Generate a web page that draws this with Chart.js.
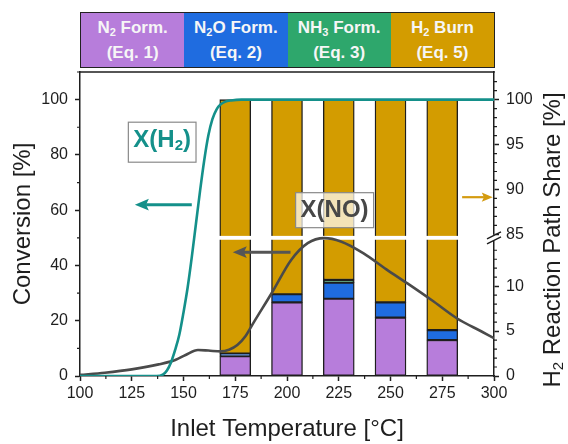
<!DOCTYPE html>
<html>
<head>
<meta charset="utf-8">
<script src="https://cdn.jsdelivr.net/npm/chart.js@4.4.1/dist/chart.umd.min.js"></script>
<style>
  html, body { margin: 0; padding: 0; background: #fff; }
  #wrap { position: relative; width: 568px; height: 444px; }
  #chart { position: absolute; left: 0; top: 0; }
  #header {
    position: absolute; left: 80px; top: 12px; width: 415px; height: 56px;
    display: flex; border: 1.5px solid #222; box-sizing: border-box;
    font-family: 'Liberation Sans', Arial, sans-serif; font-weight: bold;
    font-size: 17px; color: #f6f6f6;
  }
  .cell { flex: 1; display: flex; flex-direction: column; justify-content: center; align-items: center; line-height: 25px; }
  .cell sub { font-size: 11px; vertical-align: -3px; line-height: 0; }
</style>
</head>
<body>
<div id="wrap">
  <canvas id="chart" width="568" height="444"></canvas>
  <div id="header">
    <div class="cell" style="background:#b77ddb"><span>N<sub>2</sub> Form.</span><span>(Eq. 1)</span></div>
    <div class="cell" style="background:#1f6ce0"><span>N<sub>2</sub>O Form.</span><span>(Eq. 2)</span></div>
    <div class="cell" style="background:#2ea76c"><span>NH<sub>3</sub> Form.</span><span>(Eq. 3)</span></div>
    <div class="cell" style="background:#d39c00"><span>H<sub>2</sub> Burn</span><span>(Eq. 5)</span></div>
  </div>
</div>
<script>
// bar temperatures and H2 reaction path shares [%] (H2 burn fills up to 100)
const barTemps = [175, 200, 225, 250, 275];
const n2Share = [2.2, 8.2, 8.6, 6.5, 4.0];
const n2oShare = [0.3, 0.9, 1.8, 1.7, 1.1];
const nh3Share = [0, 0, 0.3, 0, 0];

// conversion curves [%]
const xH2Temps = [100, 120, 137, 140, 142, 144, 146, 148, 150, 152, 154, 156, 158, 160, 162, 164, 166, 168, 170, 173, 178, 200, 250, 300];
const xH2Values = [0, 0, 0, 0.5, 2, 5, 9.5, 15, 23, 32, 43, 55, 67, 78, 87, 93, 96.5, 98.3, 99.2, 99.7, 100, 100, 100, 100];
const xNoTemps = [100, 112, 125, 138, 146, 151, 157, 162, 168, 172, 176, 180, 184, 193, 202, 210, 218, 226, 237, 248, 258, 270, 282, 294, 300];
const xNoValues = [0.4, 1.2, 2.4, 4.2, 5.8, 7.6, 9.4, 9.2, 8.9, 9.5, 11.2, 14.5, 19.5, 30.5, 42, 48.1, 49.9, 48.7, 44.4, 38.6, 33.6, 27.4, 20.9, 16.1, 13.7];

// ticks
const xTicks = [100, 125, 150, 175, 200, 225, 250, 275, 300];
const leftTicks = [0, 20, 40, 60, 80, 100];
const rightTicks = [0, 5, 10, 85, 90, 95, 100];

const COLORS = {
  n2: '#b77ddb',
  n2o: '#1f6ce0',
  nh3: '#2ea76c',
  burn: '#d39c00',
  teal: '#14908a',
  grey: '#4a4a4a',
  ink: '#1e1e1e',
};

// right axis is broken between ~15 and ~85 %, both parts share the left axis
const SHARE_FACTOR = 3.25;
const BREAK_LOW = 49.3;
const BREAK_HIGH = 50.7;

function shareToLeft(r) {
  return r <= 15.5 ? r * SHARE_FACTOR : 100 - (100 - r) * SHARE_FACTOR;
}

function leftToShare(v) {
  return v <= 50 ? v / SHARE_FACTOR : 100 - (100 - v) / SHARE_FACTOR;
}

function segments(lowArr, highArr) {
  return barTemps.map((t, i) => {
    const lo = lowArr[i];
    const hi = highArr[i];
    if (hi - lo <= 0) {
      return { x: t, y: null };
    }
    return { x: t, y: [shareToLeft(lo), hi >= 100 ? 100 : shareToLeft(hi)] };
  });
}

const zeros = barTemps.map(() => 0);
const topN2 = n2Share.slice();
const topN2o = topN2.map((v, i) => v + n2oShare[i]);
const topNh3 = topN2o.map((v, i) => v + nh3Share[i]);
const hundreds = barTemps.map(() => 100);

function barDataset(label, data, color) {
  return {
    type: 'bar',
    label,
    data,
    backgroundColor: color,
    borderColor: COLORS.ink,
    borderWidth: 1.4,
    borderSkipped: false,
    barThickness: 31,
    grouped: false,
    order: 2,
  };
}

const datasets = [
  barDataset('N2 Form.', segments(zeros, topN2), COLORS.n2),
  barDataset('N2O Form.', segments(topN2, topN2o), COLORS.n2o),
  barDataset('NH3 Form.', segments(topN2o, topNh3), COLORS.nh3),
  barDataset('H2 Burn', segments(topNh3, hundreds), COLORS.burn),
  {
    type: 'line',
    label: 'X(NO)',
    data: xNoTemps.map((t, i) => ({ x: t, y: xNoValues[i] })),
    borderColor: COLORS.grey,
    borderWidth: 2.6,
    pointRadius: 0,
    cubicInterpolationMode: 'monotone',
    order: 1,
  },
  {
    type: 'line',
    label: 'X(H2)',
    data: xH2Temps.map((t, i) => ({ x: t, y: xH2Values[i] })),
    borderColor: COLORS.teal,
    borderWidth: 2.6,
    pointRadius: 0,
    cubicInterpolationMode: 'monotone',
    order: 0,
  },
];

// annotation anchors in data units (temperature, conversion)
const labelBoxes = [
  { parts: [['X(H', 0], ['2', 1], [')', 0]], x: 139.7, y: 84.6, color: COLORS.teal, fill: '#ffffff', h: 40 },
  { parts: [['X(NO)', 0]], x: 223, y: 60, color: '#474747', fill: 'rgba(255,255,255,0.72)', h: 35 },
];
const arrows = [
  { from: [154, 62], to: [126.5, 62], color: COLORS.teal, width: 3, head: 14 },
  { from: [201.7, 44.8], to: [173.8, 44.8], color: '#555555', width: 3, head: 14 },
  { from: [284.6, 64.7], to: [299.4, 64.7], color: '#d49b10', width: 2.2, head: 11 },
];

const FONT = "'Liberation Sans', Arial, sans-serif";

function measureParts(ctx, parts, size) {
  let w = 0;
  parts.forEach(([t, sub]) => {
    ctx.font = `bold ${sub ? Math.round(size * 0.62) : size}px ${FONT}`;
    w += ctx.measureText(t).width;
  });
  return w;
}

function drawParts(ctx, parts, size, x, y, weight) {
  let cx = x;
  parts.forEach(([t, sub]) => {
    const s = sub ? Math.round(size * 0.62) : size;
    ctx.font = `${weight} ${s}px ${FONT}`;
    ctx.fillText(t, cx, sub ? y + size * 0.22 : y);
    cx += ctx.measureText(t).width;
  });
}

function drawArrow(ctx, x1, y1, x2, y2, color, width, head) {
  const dir = Math.sign(x2 - x1);
  ctx.save();
  ctx.strokeStyle = color;
  ctx.fillStyle = color;
  ctx.lineWidth = width;
  ctx.beginPath();
  ctx.moveTo(x1, y1);
  ctx.lineTo(x2 - dir * head * 0.8, y2);
  ctx.stroke();
  ctx.beginPath();
  ctx.moveTo(x2, y2);
  ctx.lineTo(x2 - dir * head, y2 - head * 0.42);
  ctx.lineTo(x2 - dir * head * 0.8, y2);
  ctx.lineTo(x2 - dir * head, y2 + head * 0.42);
  ctx.closePath();
  ctx.fill();
  ctx.restore();
}

let bandDrawn = false;

const decor = {
  id: 'decor',
  beforeDatasetsDraw() {
    bandDrawn = false;
  },
  beforeDatasetDraw(chart, args) {
    if (bandDrawn || args.meta.type !== 'line') {
      return;
    }
    // white gap where the right axis is broken
    const { ctx, chartArea } = chart;
    const y = chart.scales.y;
    const top = y.getPixelForValue(BREAK_HIGH);
    const bottom = y.getPixelForValue(BREAK_LOW);
    ctx.save();
    ctx.fillStyle = '#ffffff';
    ctx.fillRect(chartArea.left + 1, top, chartArea.right - chartArea.left - 2, bottom - top);
    ctx.restore();
    bandDrawn = true;
  },
  afterDraw(chart) {
    const { ctx, chartArea } = chart;
    const xs = chart.scales.x;
    const ys = chart.scales.y;
    const ys1 = chart.scales.y1;

    ctx.save();
    ctx.strokeStyle = COLORS.ink;
    ctx.lineWidth = 1.5;

    // top frame line
    ctx.beginPath();
    ctx.moveTo(chartArea.left - 0.75, chartArea.top);
    ctx.lineTo(chartArea.right + 0.75, chartArea.top);
    ctx.stroke();

    // minor ticks
    ctx.lineWidth = 1.2;
    ctx.beginPath();
    for (let v = 112.5; v < 300; v += 25) {
      const px = xs.getPixelForValue(v);
      ctx.moveTo(px, chartArea.bottom);
      ctx.lineTo(px, chartArea.bottom + 3);
    }
    for (let v = 10; v <= 110; v += 20) {
      const py = ys.getPixelForValue(v);
      ctx.moveTo(chartArea.left, py);
      ctx.lineTo(chartArea.left - 3, py);
    }
    const minorShares = [];
    for (let r = 1; r <= 14; r++) {
      if (r % 5) minorShares.push(r);
    }
    for (let r = 86; r <= 102; r++) {
      if (r % 5) minorShares.push(r);
    }
    minorShares.forEach((r) => {
      const py = ys1.getPixelForValue(shareToLeft(r));
      ctx.moveTo(chartArea.right, py);
      ctx.lineTo(chartArea.right + 3, py);
    });
    ctx.stroke();

    // break marker on the right axis
    const yb = ys1.getPixelForValue((BREAK_LOW + BREAK_HIGH) / 2);
    const xr = chartArea.right;
    ctx.fillStyle = '#ffffff';
    ctx.fillRect(xr - 2, yb - 3, 4, 6);
    ctx.lineWidth = 1.5;
    ctx.beginPath();
    ctx.moveTo(xr - 7, yb + 1);
    ctx.lineTo(xr + 7, yb - 6);
    ctx.moveTo(xr - 7, yb + 6);
    ctx.lineTo(xr + 7, yb - 1);
    ctx.stroke();

    // arrows
    arrows.forEach((a) => {
      drawArrow(
        ctx,
        xs.getPixelForValue(a.from[0]), ys.getPixelForValue(a.from[1]),
        xs.getPixelForValue(a.to[0]), ys.getPixelForValue(a.to[1]),
        a.color, a.width, a.head,
      );
    });

    // labelled boxes
    const size = 24;
    labelBoxes.forEach((b) => {
      const cx = xs.getPixelForValue(b.x);
      const cy = ys.getPixelForValue(b.y);
      const w = measureParts(ctx, b.parts, size) + 10;
      ctx.fillStyle = b.fill;
      ctx.fillRect(cx - w / 2, cy - b.h / 2, w, b.h);
      ctx.strokeStyle = '#8a8a8a';
      ctx.lineWidth = 1.2;
      ctx.strokeRect(cx - w / 2, cy - b.h / 2, w, b.h);
      ctx.fillStyle = b.color;
      ctx.textBaseline = 'middle';
      ctx.textAlign = 'left';
      drawParts(ctx, b.parts, size, cx - w / 2 + 5, cy - (b.h > 36 ? 2 : 0), 'bold');
    });

    // right axis title, reading bottom to top
    const titleParts = [['H', 0], ['2', 1], [' Reaction Path Share [%]', 0]];
    ctx.save();
    ctx.translate(553, 240);
    ctx.rotate(-Math.PI / 2);
    ctx.fillStyle = '#1e1e1e';
    ctx.textBaseline = 'middle';
    ctx.textAlign = 'left';
    let tw = 0;
    titleParts.forEach(([t, sub]) => {
      ctx.font = `${sub ? 15 : 24}px ${FONT}`;
      tw += ctx.measureText(t).width;
    });
    let tx = -tw / 2;
    titleParts.forEach(([t, sub]) => {
      ctx.font = `${sub ? 15 : 24}px ${FONT}`;
      ctx.fillText(t, tx, sub ? 6 : 0);
      tx += ctx.measureText(t).width;
    });
    ctx.restore();

    ctx.restore();
  },
};

Chart.defaults.font.family = FONT;
Chart.defaults.color = '#1e1e1e';

const axisBorder = { color: COLORS.ink, width: 1.5 };
const axisGrid = { display: true, drawOnChartArea: false, offset: false, tickLength: 5, tickWidth: 1.5, tickColor: COLORS.ink };

new Chart(document.getElementById('chart'), {
  type: 'bar',
  data: { datasets },
  options: {
    responsive: false,
    animation: false,
    layout: { padding: { top: 72, left: 0, right: 0, bottom: 0 } },
    plugins: {
      legend: { display: false },
      tooltip: { enabled: false },
    },
    scales: {
      x: {
        type: 'linear',
        min: 100,
        max: 300,
        offset: false,
        afterBuildTicks(scale) {
          scale.ticks = xTicks.map((v) => ({ value: v }));
        },
        afterFit(scale) {
          scale.height = 68;
        },
        grid: axisGrid,
        border: axisBorder,
        ticks: { font: { size: 16 }, padding: 3, maxRotation: 0, color: '#1e1e1e' },
        title: { display: true, text: 'Inlet Temperature [°C]', font: { size: 24 }, padding: 0, color: '#1e1e1e' },
      },
      y: {
        type: 'linear',
        position: 'left',
        min: 0,
        max: 110,
        afterBuildTicks(scale) {
          scale.ticks = leftTicks.map((v) => ({ value: v }));
        },
        afterFit(scale) {
          scale.width = 80;
        },
        grid: axisGrid,
        border: axisBorder,
        ticks: { font: { size: 16 }, padding: 7, color: '#1e1e1e' },
        title: { display: true, text: 'Conversion [%]', font: { size: 24 }, padding: { top: 9, bottom: 0 }, color: '#1e1e1e' },
      },
      y1: {
        type: 'linear',
        position: 'right',
        min: 0,
        max: 110,
        afterBuildTicks(scale) {
          scale.ticks = rightTicks.map((v) => ({ value: shareToLeft(v) }));
        },
        afterFit(scale) {
          scale.width = 74;
        },
        grid: axisGrid,
        border: axisBorder,
        ticks: {
          font: { size: 16 },
          padding: 7,
          color: '#1e1e1e',
          callback(value) {
            return Math.round(leftToShare(value));
          },
        },
      },
    },
  },
  plugins: [decor],
});
</script>
</body>
</html>
